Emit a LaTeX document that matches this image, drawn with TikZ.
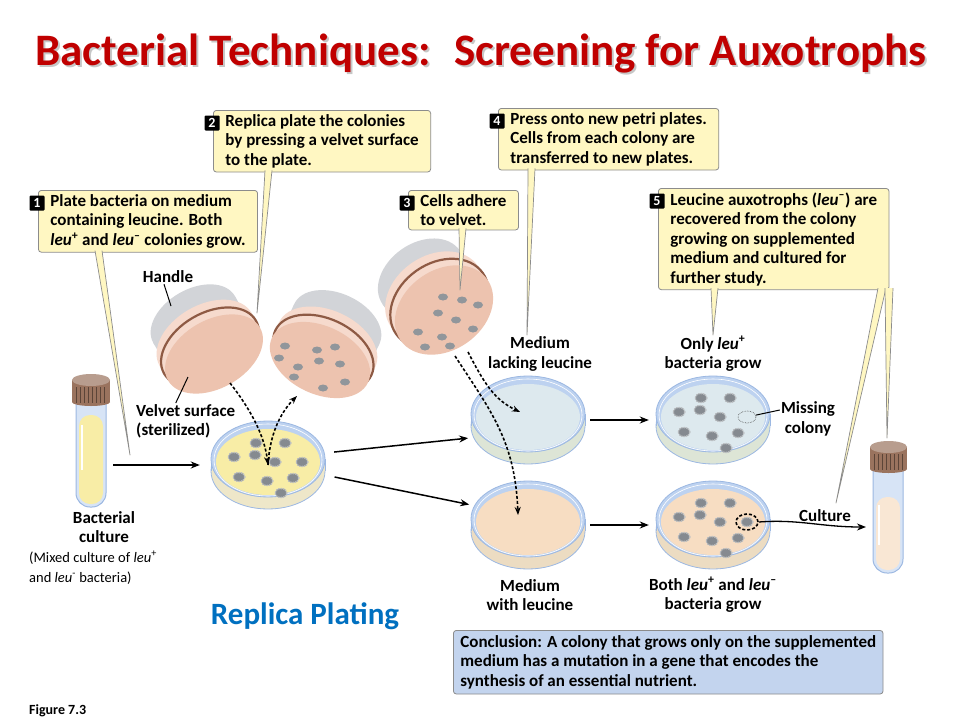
\documentclass[tikz,border=0pt]{standalone}
\usepackage{fontspec}
\setmainfont{Carlito}
\usetikzlibrary{shapes.geometric, arrows.meta, positioning}

\definecolor{titlered}{HTML}{C00000}
\definecolor{rpblue}{HTML}{0070C0}
\definecolor{calloutfill}{HTML}{FFF7C2}
\definecolor{calloutline}{HTML}{8C8C8C}
\definecolor{concfill}{HTML}{C3D4EE}
\definecolor{lidblue}{HTML}{BDD2F0}
\definecolor{lidedge}{HTML}{9CB8E2}
\definecolor{agaryellow}{HTML}{F8EDA6}
\definecolor{agarblue}{HTML}{DDE9EE}
\definecolor{agarpeach}{HTML}{F7DDC2}
\definecolor{baseyellow}{HTML}{EEE7C9}
\definecolor{basegreen}{HTML}{DDE5D6}
\definecolor{basepeach}{HTML}{ECDCC2}
\definecolor{velvetpink}{HTML}{EDC3AF}
\definecolor{sleevepink}{HTML}{F6DACD}
\definecolor{bandbrown}{HTML}{8E5A44}
\definecolor{handlegray}{HTML}{D2D4D8}
\definecolor{capbrown}{HTML}{9A735E}
\definecolor{colonygray}{HTML}{858A90}

\newcommand{\figfont}{\bfseries\fontsize{17}{19.5}\selectfont}
\newcommand{\titlefont}{\bfseries\fontsize{45}{50}\selectfont}
\newcommand{\leuplus}{\textit{leu}\textsuperscript{+}}
\newcommand{\leuminus}{\textit{leu}\textsuperscript{–}}

% petri dish: x, y (lid centre), agar colour, base colour
\newcommand{\petri}[4]{
  \filldraw[fill=#4, draw=lidedge, line width=0.8pt] (#1,#2+12) ellipse[x radius=57, y radius=38];
  \fill[#4] (#1-57,#2) rectangle (#1+57,#2+12);
  \draw[lidedge, line width=0.8pt] (#1-57,#2) -- (#1-57,#2+12) (#1+57,#2) -- (#1+57,#2+12);
  \filldraw[fill=lidblue, draw=lidedge, line width=0.8pt] (#1,#2) ellipse[x radius=57, y radius=38];
  \fill[#3] (#1,#2+3) ellipse[x radius=52, y radius=33];
  \draw[white, line width=0.6pt] (#1,#2+1) ellipse[x radius=54, y radius=36];
}

% colonies on a dish, offsets from the agar centre
\newcommand{\colonies}[2]{
  \foreach \dx/\dy in {-12/-19,17/-19,-34/-5,-13/-7,7/0,-29/15,-1/19,25/16,13/31}
    \filldraw[colony] (#1+\dx,#2+\dy) ellipse[x radius=6, y radius=4.5];
}

% velvet pad: x, y (face centre), angle, face y radius, handle y radius
\newcommand{\velvetpad}[5]{
  \begin{scope}[shift={(#1,#2)}, rotate=#3]
    \fill[handlegray] (-47,-40) rectangle (47,-15);
    \fill[handlegray] (0,-40) ellipse[x radius=47, y radius=#5];
    \fill[white, opacity=0.5] (-40,-38) rectangle (-30,-16);
    \fill[sleevepink] (-53,-17) rectangle (53,0);
    \fill[sleevepink] (0,-17) ellipse[x radius=53, y radius=#4];
    \draw[bandbrown, line width=2.2pt] (0,-8) ellipse[x radius=53, y radius=#4];
    \fill[velvetpink] (0,0) ellipse[x radius=53, y radius=#4];
  \end{scope}
}

\begin{document}
\begin{tikzpicture}[x=1pt, y=-1pt,
  fig/.style={font=\figfont, align=center, inner sep=1pt},
  callout/.style={draw=calloutline, fill=calloutfill, rounded corners=3pt, line width=0.8pt,
    align=left, anchor=north west, font=\figfont, inner xsep=12pt, inner ysep=4pt},
  badge/.style={fill=black, text=white, font=\bfseries\fontsize{14}{14}\selectfont,
    inner sep=0pt, minimum size=15pt, rounded corners=1pt},
  ptr/.style={fill=calloutfill, draw=calloutline, line width=0.7pt, line join=round},
  arr/.style={-{Stealth[length=9pt, width=7pt]}, line width=1.5pt},
  dasharr/.style={-{Stealth[length=8pt, width=6pt]}, line width=1.6pt, dash pattern=on 3pt off 2pt},
  colony/.style={fill=colonygray, draw=colonygray!55, densely dotted, line width=1.4pt},
  padcolony/.style={fill=colonygray!90},
  platespot/.style={ellipse, minimum width=116pt, minimum height=92pt, inner sep=0pt},
  tubespot/.style={rectangle, minimum width=40pt, minimum height=135pt, inner sep=0pt}
]
\useasboundingbox (0,0) rectangle (958,720);
\fill[white] (0,0) rectangle (958,720);

% title
\node[font=\titlefont, text=black!22, anchor=base] (titleshade) at (483,67) {Bacterial Techniques:~ Screening for Auxotrophs};
\node[font=\titlefont, text=titlered, anchor=base] (title) at (481,65) {Bacterial Techniques:~ Screening for Auxotrophs};

% test tube with the mixed culture
\node[tubespot] (tube1) at (91,440) {};
\filldraw[fill=lidblue!60, draw=lidedge, line width=1pt, rounded corners=14pt] (76,398) -- (76,507) -- (106,507) -- (106,398);
\fill[agaryellow, rounded corners=11pt] (79,415) rectangle (103,504);
\draw[white, line width=1.5pt] (82,425) -- (82,470);
\fill[capbrown] (72,380) rectangle (110,402);
\fill[capbrown] (91,402) ellipse[x radius=19, y radius=4];
\foreach \cx in {76,80,...,106}
  \draw[capbrown!60!black, line width=0.5pt] (\cx,387) -- (\cx,403);
\fill[capbrown!70!white] (91,380) ellipse[x radius=19, y radius=6];

% velvet pads
\velvetpad{214}{354}{30}{34}{30}
\velvetpad{320}{360}{-25}{34}{30}
\velvetpad{444}{310}{35}{40}{34}
\foreach \cx/\cy in {285/346,317/350,335/347,279/358,298/367,319/361,340/364,294/377,323/388,345/382,
                     443/297,462/300,478/305,438/313,456/320,473/329,418/332,442/337,425/347,450/346}
  \fill[padcolony] (\cx,\cy) ellipse[x radius=5, y radius=3.5];

% dishes
\petri{268}{459}{agaryellow}{baseyellow}
\petri{528}{414}{agarblue}{basegreen}
\petri{713}{414}{agarblue}{basegreen}
\petri{528}{519}{agarpeach}{basepeach}
\petri{713}{519}{agarpeach}{basepeach}
\colonies{268}{462}
\filldraw[colony] (302,462) ellipse[x radius=6, y radius=4.5];
\colonies{713}{417}
\colonies{713}{522}
\filldraw[colony] (747,522) ellipse[x radius=6, y radius=4.5];

\node[platespot] (master) at (268,465) {};
\node[platespot] (lackp) at (528,420) {};
\node[platespot] (lackr) at (713,420) {};
\node[platespot] (withp) at (528,525) {};
\node[platespot] (withr) at (713,525) {};

\node[ellipse, draw=black!70, densely dotted, line width=0.6pt, minimum width=18pt, minimum height=12pt, inner sep=0pt] (gap) at (747,417) {};
\node[ellipse, draw=black, dash pattern=on 3pt off 2pt, line width=1.6pt, minimum width=22pt, minimum height=16pt, inner sep=0pt] (pick) at (747,522) {};

% second test tube
\node[tubespot, minimum width=36pt] (tube2) at (888,508) {};
\filldraw[fill=lidblue!60, draw=lidedge, line width=1pt, rounded corners=14pt] (873,466) -- (873,573) -- (903,573) -- (903,466);
\fill[agarpeach!70!white, rounded corners=11pt] (876,497) rectangle (900,570);
\draw[white, line width=1.5pt] (879,505) -- (879,545);
\fill[capbrown] (870,447) rectangle (907,469);
\fill[capbrown] (888.5,469) ellipse[x radius=18.5, y radius=4];
\foreach \cx in {874,878,...,904}
  \draw[capbrown!60!black, line width=0.5pt] (\cx,454) -- (\cx,470);
\fill[capbrown!70!white] (888.5,447) ellipse[x radius=18.5, y radius=6];

% labels
\node[fig] (handle) at (168,277) {Handle};
\node[fig, align=left, anchor=north west] (velv) at (135,403) {Velvet surface\\(sterilized)};
\node[fig] (bact) at (104,527) {Bacterial\\culture};
\node[align=left, anchor=north west, inner sep=1pt, font=\fontsize{14.5}{20}\selectfont] (mixed) at (28,550)
  {(Mixed culture of \textit{leu}\textsuperscript{+}\\and \textit{leu}\textsuperscript{-} bacteria)};
\node[fig] (lack) at (540,354) {Medium\\lacking leucine};
\node[fig] (only) at (713,354) {Only \leuplus\\bacteria grow};
\node[fig] (miss) at (808,419) {Missing\\colony};
\node[fig] (cult) at (825,516) {Culture};
\node[fig] (with) at (530,595) {Medium\\with leucine};
\node[fig] (both) at (713,595) {Both \leuplus{} and \leuminus\\bacteria grow};
\node[font=\bfseries\fontsize{31}{36}\selectfont, text=rpblue] (rp) at (305,616) {Replica Plating};
\node[draw=calloutline, fill=concfill, rounded corners=3pt, line width=0.8pt, align=left, anchor=north west,
  font=\figfont, inner xsep=7pt, inner ysep=5pt] (concl) at (453,630)
  {Conclusion: A colony that grows only on the supplemented\\medium has a mutation in a gene that encodes the\\synthesis of an essential nutrient.};
\node[font=\bfseries\fontsize{14}{16}\selectfont, anchor=west, inner sep=0pt] (figno) at (29,711) {Figure 7.3};

\coordinate (hdl) at (171,306);
\coordinate (vface) at (188,377);
\draw[line width=1pt] ([xshift=-4pt]handle.south) -- (hdl);
\draw[line width=1pt] ([xshift=-10pt]velv.north) -- (vface);
\draw[line width=1pt] ([yshift=9pt]miss.west) -- (gap);

% arrows
\draw[arr, shorten <=2pt, shorten >=10pt] (tube1.east |- master.center) -- (master.west);
\draw[arr, shorten <=10pt, shorten >=6pt] (master.12) -- (lackp.198);
\draw[arr, shorten <=10pt, shorten >=6pt] (master.-10) -- (withp.160);
\draw[arr, shorten <=4pt, shorten >=6pt] (lackp.east) -- (lackr.west);
\draw[arr, shorten <=4pt, shorten >=6pt] (withp.east) -- (withr.west);
\coordinate (cultend) at (866,527);
\draw[arr, line width=1.3pt] (pick.east) .. controls +(40,-3) and +(-45,0) .. (cultend);

\coordinate (pad1low) at (230,383);
\coordinate (pad2low) at (297,396);
\coordinate (pad3a) at (468,352);
\coordinate (pad3b) at (455,356);
\coordinate (lackdrop) at (520,412);
\coordinate (withdrop) at (518,515);
\draw[dasharr] (pad1low) .. controls (255,415) and (265,440) .. (master.center);
\draw[dasharr] (master.center) .. controls (270,430) and (283,410) .. (pad2low);
\draw[dasharr] (pad3a) .. controls (485,385) and (495,400) .. (lackdrop);
\draw[dasharr] (pad3b) .. controls (490,410) and (515,440) .. (withdrop);

% step callouts
\node[callout] (s1) at (38,190) {Plate bacteria on medium\\containing leucine. Both\\\leuplus{} and \leuminus{} colonies grow.};
\node[callout] (s2) at (213,110) {Replica plate the colonies\\by pressing a velvet surface\\to the plate.};
\node[callout] (s3) at (408,190) {Cells adhere\\to velvet.};
\node[callout] (s4) at (498,108) {Press onto new petri plates.\\Cells from each colony are\\transferred to new plates.};
\node[callout] (s5) at (658,188) {Leucine auxotrophs (\leuminus) are\\recovered from the colony\\growing on supplemented\\medium and cultured for\\further study.};

\foreach \s/\n in {s1/1,s2/2,s3/3,s4/4,s5/5}
  \node[badge] (b\n) at ([xshift=-1pt, yshift=-13pt]\s.north west) {\n};

\coordinate (tip1) at (130,455);
\coordinate (tip2) at (257,313);
\coordinate (tip3) at (460,290);
\coordinate (tip4) at (527,335);
\coordinate (tip5) at (713,335);
\coordinate (tip6) at (836,503);
\coordinate (tip7) at (887,438);
\filldraw[ptr] ([xshift=57pt, yshift=2pt]s1.south west) -- (tip1) -- ([xshift=64pt, yshift=2pt]s1.south west);
\filldraw[ptr] ([xshift=52pt, yshift=2pt]s2.south west) -- (tip2) -- ([xshift=59pt, yshift=2pt]s2.south west);
\filldraw[ptr] ([xshift=51pt, yshift=2pt]s3.south west) -- (tip3) -- ([xshift=58pt, yshift=2pt]s3.south west);
\filldraw[ptr] ([xshift=30pt, yshift=2pt]s4.south west) -- (tip4) -- ([xshift=37pt, yshift=2pt]s4.south west);
\filldraw[ptr] ([xshift=53pt, yshift=2pt]s5.south west) -- (tip5) -- ([xshift=60pt, yshift=2pt]s5.south west);
\filldraw[ptr] ([xshift=220pt, yshift=2pt]s5.south west) -- (tip6) -- ([xshift=228pt, yshift=2pt]s5.south west);
\filldraw[ptr] ([xshift=227pt, yshift=2pt]s5.south west) -- (tip7) -- ([xshift=235pt, yshift=2pt]s5.south west);

\end{tikzpicture}
\end{document}
